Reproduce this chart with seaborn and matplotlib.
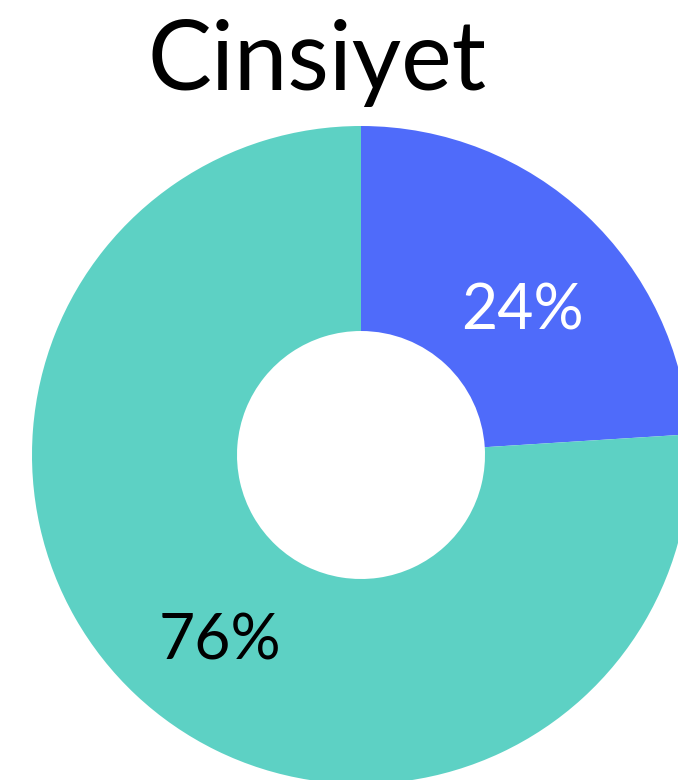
import matplotlib
matplotlib.use("Agg")
import matplotlib.pyplot as plt
import numpy as np
import seaborn as sns

# data
labels = ["Erkek", "Kadın"]
shares = [24, 76]
colors = ["#4F6BFA", "#5DD1C4"]
text_colors = ["white", "black"]
title = "Cinsiyet"

sns.set_theme(style="white")
plt.rcParams["font.family"] = ["Lato", "DejaVu Sans"]

W, H = 678, 780
cx, cy = 361, 455      # donut centre in pixels (from top-left)
r_out, r_in = 329, 124

fig = plt.figure(figsize=(W / 100, H / 100), dpi=100)
ax = fig.add_axes([0, 0, 1, 1])

wedges, _, autotexts = ax.pie(
    shares, colors=colors, startangle=90, counterclock=False,
    radius=r_out, autopct="%d%%", pctdistance=0.69,
    wedgeprops=dict(width=r_out - r_in, linewidth=0),
    textprops=dict(fontsize=45),
)
# labels are nudged off the wedge middle in the original
label_dist = [0.667, 0.697]
label_turn = [-4.0, 5.3]
for w, t, c, d, turn in zip(wedges, autotexts, text_colors, label_dist, label_turn):
    ang = np.deg2rad((w.theta1 + w.theta2) / 2 + turn)
    t.set_position((d * r_out * np.cos(ang), d * r_out * np.sin(ang)))
    t.set_color(c)
    t.set_va("center_baseline")

ax.set_xlim(-cx, W - cx)
ax.set_ylim(-(H - cy), cy)
ax.set_aspect("equal")
ax.axis("off")

fig.text(317 / W, 1 - 90 / H, title, ha="center", va="baseline",
         fontsize=69, color="black")

fig.savefig("out.png", dpi=100)
plt.close(fig)
